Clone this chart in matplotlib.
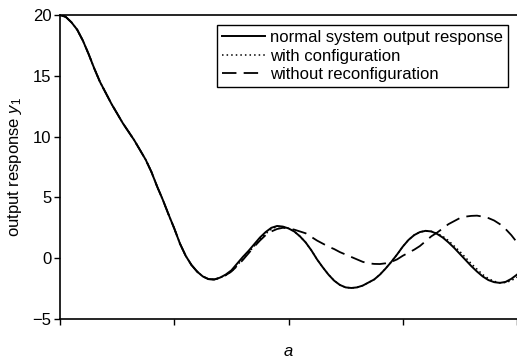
import matplotlib
matplotlib.use("Agg")
import matplotlib.pyplot as plt

plt.rcParams['font.family'] = ['Liberation Sans', 'DejaVu Sans']
plt.rcParams['mathtext.fontset'] = 'custom'
plt.rcParams['mathtext.it'] = 'Liberation Sans:italic'
plt.rcParams['mathtext.rm'] = 'Liberation Sans'

# sample positions along the (unlabelled) horizontal axis
x = [0.00, 0.05, 0.10, 0.15, 0.20, 0.25, 0.30, 0.35, 0.40, 0.45,
     0.50, 0.55, 0.60, 0.65, 0.70, 0.75, 0.80, 0.85, 0.90, 0.95,
     1.00, 1.05, 1.10, 1.15, 1.20, 1.25, 1.30, 1.35, 1.40, 1.45,
     1.50, 1.55, 1.60, 1.65, 1.70, 1.75, 1.80, 1.85, 1.90, 1.95,
     2.00, 2.05, 2.10, 2.15, 2.20, 2.25, 2.30, 2.35, 2.40, 2.45,
     2.50, 2.55, 2.60, 2.65, 2.70, 2.75, 2.80, 2.85, 2.90, 2.95,
     3.00, 3.05, 3.10, 3.15, 3.20, 3.25, 3.30, 3.35, 3.40, 3.45,
     3.50, 3.55, 3.60, 3.65, 3.70, 3.75, 3.80, 3.85, 3.90, 3.95,
     4.00]

normal = [20.0, 19.85, 19.4, 18.8, 17.9, 16.8, 15.6, 14.5, 13.6, 12.7,
          11.9, 11.1, 10.4, 9.7, 8.9, 8.1, 7.1, 5.9, 4.8, 3.6,
          2.45, 1.2, 0.2, -0.55, -1.1, -1.5, -1.72, -1.75, -1.6, -1.35,
          -1.0, -0.45, 0.1, 0.6, 1.15, 1.7, 2.15, 2.5, 2.65, 2.6,
          2.45, 2.2, 1.8, 1.3, 0.65, -0.1, -0.75, -1.35, -1.85, -2.2,
          -2.4, -2.45, -2.4, -2.25, -2.0, -1.75, -1.35, -0.85, -0.3, 0.3,
          0.95, 1.5, 1.9, 2.15, 2.25, 2.2, 2.0, 1.7, 1.3, 0.85,
          0.35, -0.15, -0.65, -1.1, -1.5, -1.8, -1.97, -2.03, -1.95, -1.7,
          -1.35]

with_config = [20.0, 19.85, 19.4, 18.8, 17.9, 16.8, 15.6, 14.5, 13.6, 12.7,
               11.9, 11.1, 10.4, 9.7, 8.9, 8.1, 7.1, 5.9, 4.8, 3.6,
               2.45, 1.2, 0.2, -0.55, -1.1, -1.5, -1.72, -1.75, -1.62, -1.4,
               -1.1, -0.6, -0.05, 0.45, 1.0, 1.55, 2.0, 2.4, 2.6, 2.6,
               2.45, 2.2, 1.8, 1.3, 0.65, -0.1, -0.75, -1.35, -1.85, -2.2,
               -2.4, -2.45, -2.4, -2.25, -2.0, -1.75, -1.35, -0.85, -0.3, 0.3,
               0.95, 1.5, 1.9, 2.15, 2.25, 2.2, 2.05, 1.8, 1.45, 1.0,
               0.55, 0.05, -0.45, -0.9, -1.35, -1.68, -1.9, -2.02, -2.0, -1.85,
               -1.55]

without_reconfig = [20.0, 19.85, 19.4, 18.8, 17.9, 16.8, 15.6, 14.5, 13.6, 12.7,
                    11.9, 11.1, 10.4, 9.7, 8.9, 8.1, 7.1, 5.9, 4.8, 3.6,
                    2.45, 1.2, 0.2, -0.55, -1.1, -1.5, -1.72, -1.75, -1.62, -1.4,
                    -1.1, -0.65, -0.15, 0.4, 0.95, 1.45, 1.9, 2.2, 2.4, 2.5,
                    2.45, 2.35, 2.2, 2.05, 1.75, 1.45, 1.2, 0.95, 0.75, 0.5,
                    0.3, 0.1, -0.1, -0.3, -0.42, -0.47, -0.48, -0.42, -0.3, -0.1,
                    0.2, 0.45, 0.7, 1.0, 1.4, 1.8, 2.1, 2.45, 2.8, 3.05,
                    3.3, 3.42, 3.48, 3.5, 3.42, 3.3, 3.1, 2.8, 2.4, 1.9,
                    1.3]

labels = ['normal system output response', 'with configuration', 'without reconfiguration']

fig = plt.figure(figsize=(5.17, 3.62), dpi=100)
ax = fig.add_axes([60 / 517, 1 - 319 / 362, 1 - 60 / 517, (319 - 15) / 362])

ax.plot(x, normal, color='black', lw=1.4, label=labels[0])
ax.plot(x, with_config, color='black', lw=1.1, linestyle=(0, (1, 2)), label=labels[1])
ax.plot(x, without_reconfig, color='black', lw=1.3, linestyle=(0, (8, 4)), label=labels[2])

ax.set_xlim(0, 4)
ax.set_ylim(-5, 20)
ax.set_yticks([-5, 0, 5, 10, 15, 20])
ax.set_yticklabels(['\u22125', '0', '5', '10', '15', '20'])
ax.set_xticks([0, 1, 2, 3, 4])
ax.set_xticklabels([])
ax.tick_params(direction='out', length=4, width=1, labelsize=12, pad=2, colors='black')

ax.spines['right'].set_visible(False)
for s in ['left', 'top', 'bottom']:
    ax.spines[s].set_linewidth(1.2)

ax.set_ylabel('output response $y_1$', fontsize=12, labelpad=6)
ax.set_xlabel('$a$', fontsize=12, labelpad=12)

leg = ax.legend(loc='upper right', bbox_to_anchor=(508 / 517, 1 - 25 / 362),
                bbox_transform=fig.transFigure, fontsize=12, frameon=True,
                fancybox=False, edgecolor='black', framealpha=1,
                borderpad=0.3, labelspacing=0.22, handlelength=2.6,
                handletextpad=0.3, borderaxespad=0)
leg.get_frame().set_linewidth(1.0)

fig.savefig('out.png', dpi=100)
